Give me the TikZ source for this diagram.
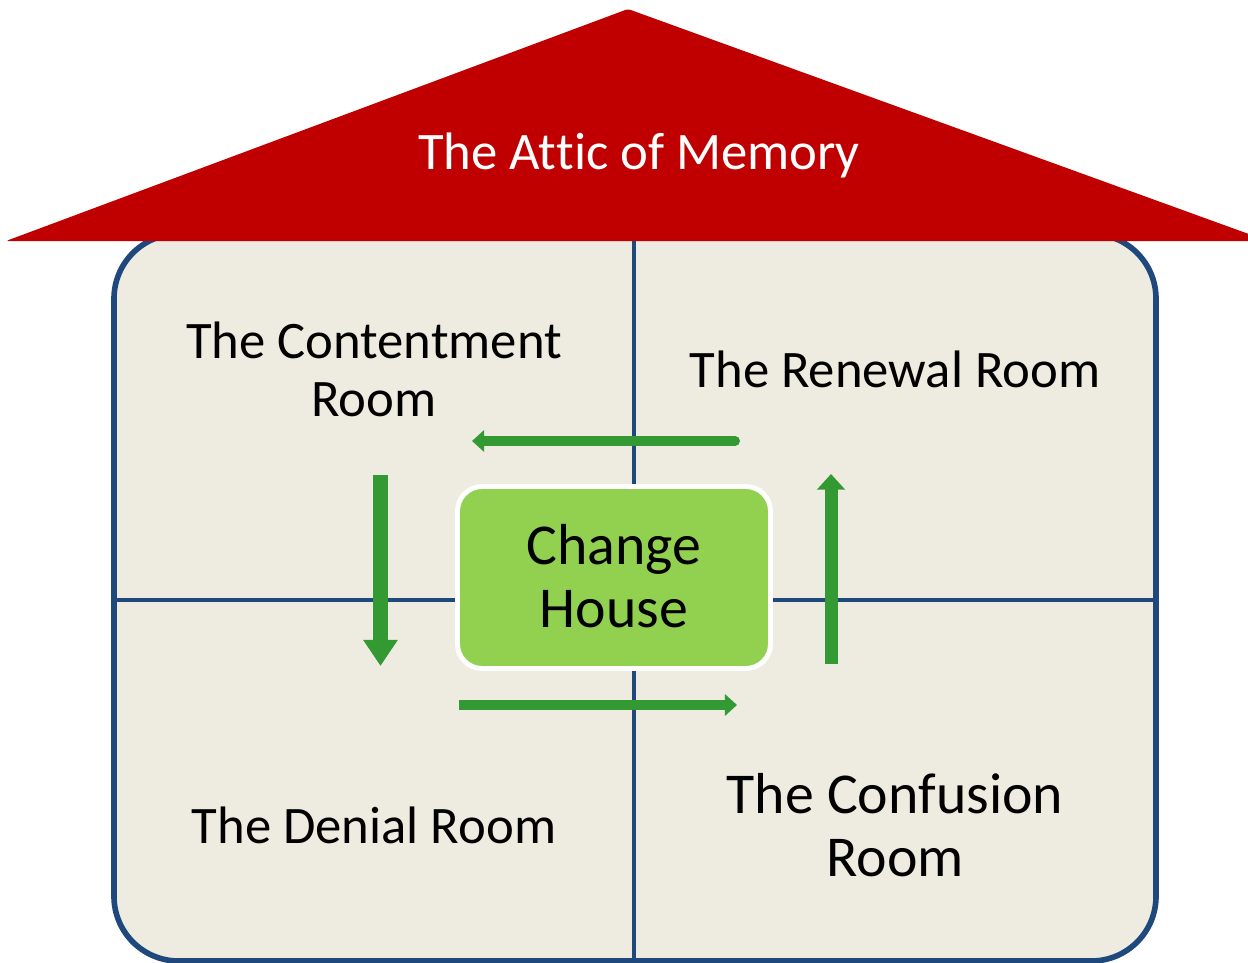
\documentclass[tikz,border=0pt]{standalone}
\usepackage{fontspec}
\setmainfont{Carlito}[Ligatures=NoCommon]
\usetikzlibrary{arrows.meta}
\definecolor{roofred}{HTML}{C00000}
\definecolor{wallblue}{HTML}{1F497D}
\definecolor{wallfill}{HTML}{EEECE1}
\definecolor{changegreen}{HTML}{92D050}
\definecolor{arrowgreen}{HTML}{339933}
\tikzset{
  roomtext/.style={font=\fontsize{30}{32.9}\selectfont, align=center, text=black},
  bigtext/.style={font=\fontsize{32.9}{35.7}\selectfont, align=center, text=black},
  flowarrow/.style={draw=arrowgreen, -{Triangle[length=0pt 1.2, width=0pt 2.1]}},
  divider/.style={draw=wallblue, line width=2.5pt}
}

\begin{document}
\begin{tikzpicture}[x=0.02cm, y=-0.02cm]
				\useasboundingbox (0,0) rectangle (1248,963);
				
				% walls of the house
				\fill[wallfill, rounded corners=36.8pt] (114,234) rectangle (1156,961);
				\draw[divider] (634,234) -- (634,961);
				\draw[divider] (114,600) -- (1156,600);
				\draw[wallblue, line width=3.2pt, rounded corners=36.8pt] (114,234) rectangle (1156,961);
				
				% roof
				\fill[roofred, rounded corners=1.5pt] (6,241) -- (628,9) -- (1268,241) -- cycle;
				\node[roomtext, text=white] (attic) at (639,155) {The At\kern0pt tic of Memory};
				
				% rooms
				\node[roomtext] (content) at (374,369) {The Contentment\\Room};
				\node[roomtext] (renewal) at (895,369) {The Renewal Room};
				\node[roomtext] (denial) at (374,825) {The Denial Room};
				\node[bigtext] (confusion) at (895,825) {The Confusion\\Room};
				
				% centre box
				\draw[white, fill=changegreen, line width=2.8pt, rounded corners=14pt] (457.5,486.5) rectangle (770.5,668.5);
				\node[bigtext] (change) at (614,576) {Change\\House};
				
				% cycle of arrows
				\coordinate (topA) at (735,441);
				\coordinate (topB) at (472,441);
				\coordinate (leftA) at (380.5,475);
				\coordinate (leftB) at (380.5,666);
				\coordinate (botA) at (459,705);
				\coordinate (botB) at (737,705);
				\coordinate (rightA) at (831,664);
				\coordinate (rightB) at (831,474);
				\draw[flowarrow, line width=5.7pt, line cap=round] (topA) -- (topB);
				\draw[flowarrow, line width=8.5pt, -{Triangle[length=0pt 1.75, width=0pt 2.2]}] (leftA) -- (leftB);
				\draw[flowarrow, line width=5.7pt] (botA) -- (botB);
				\draw[flowarrow, line width=7.4pt] (rightA) -- (rightB);
			\end{tikzpicture}
\end{document}
